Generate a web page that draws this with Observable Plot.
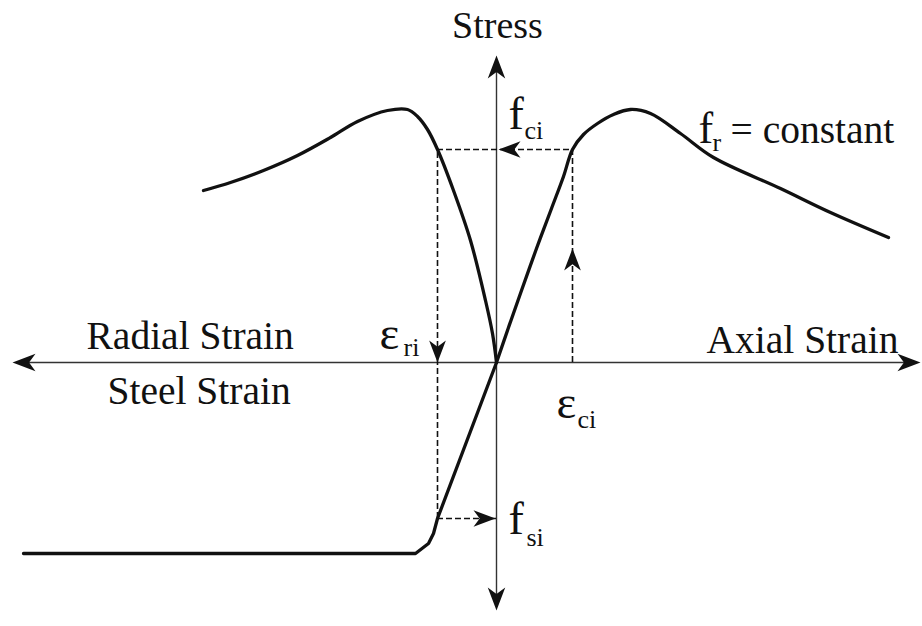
<!DOCTYPE html>
<html>
<head>
<meta charset="utf-8">
<script src="https://cdn.jsdelivr.net/npm/d3@7"></script>
<script src="https://cdn.jsdelivr.net/npm/@observablehq/plot@0.6"></script>
<style>
  html, body { margin: 0; padding: 0; background: #fff; }
  #chart svg { display: block; }
  #chart svg text { font-family: "Liberation Serif", "Times New Roman", serif; }
</style>
</head>
<body>
<div id="chart"></div>
<script>
// Confined concrete stress–strain schematic: axial strain to the right,
// radial (lateral) strain to the left, steel response below the strain axis.
// Units are schematic (strain and stress in arbitrary normalized units).

// Axial stress–strain curve of the confined concrete (fr = constant)
const axialStrain = [0, 0.12, 0.25, 0.40, 0.55, 0.67, 0.76, 0.87, 1.01, 1.17, 1.34, 1.54, 1.84, 2.17, 2.84, 3.34, 3.92];
const axialStress = [0, 0.35, 0.72, 1.14, 1.54, 1.86, 2.13, 2.28, 2.39, 2.48, 2.53, 2.49, 2.29, 2.05, 1.74, 1.50, 1.25];

// Stress vs. radial strain (plotted on the negative strain side)
const radialStrain = [0, -0.04, -0.11, -0.26, -0.43, -0.59, -0.69, -0.79, -0.89, -1.09, -1.39, -1.66, -1.99, -2.33, -2.66, -2.93];
const radialStress = [0, 0.29, 0.62, 1.22, 1.72, 2.13, 2.33, 2.46, 2.53, 2.52, 2.41, 2.25, 2.07, 1.92, 1.80, 1.72];

// Steel stress vs. steel strain (below the strain axis)
const steelStrain = [0, -0.59, -0.63, -0.68, -0.81, -4.73];
const steelStress = [0, -1.56, -1.71, -1.81, -1.91, -1.91];

const fci = 2.13;     // concrete stress
const epsCi = 0.76;   // axial strain
const epsRi = -0.59;  // radial strain
const fsi = -1.56;    // steel stress

// Axis extents
const strainAxis = [-4.84, 4.24];
const stressAxis = [-2.48, 3.07];

const toPoints = (xs, ys) => xs.map((x, i) => ({x, y: ys[i]}));
const axial = toPoints(axialStrain, axialStress);
const radial = toPoints(radialStrain, radialStress);
const steel = toPoints(steelStrain, steelStress);

// Barbed arrowhead, tip at the anchor point, pointing up before rotation
const arrowHead = {
  draw(context, size) {
    const l = Math.sqrt(size / Math.PI);
    const w = l * 0.38;
    context.moveTo(0, 0);
    context.lineTo(-w, l);
    context.lineTo(0, l * 0.72);
    context.lineTo(w, l);
    context.closePath();
  }
};

const axisHeads = [
  {x: 0, y: stressAxis[1], rotate: 0},
  {x: 0, y: stressAxis[0], rotate: 180},
  {x: strainAxis[0], y: 0, rotate: 270},
  {x: strainAxis[1], y: 0, rotate: 90}
];
const guideHeads = [
  {x: 0.02, y: fci, rotate: 270},
  {x: epsRi, y: 0, rotate: 180},
  {x: epsCi, y: 1.14, rotate: 0},
  {x: -0.01, y: fsi, rotate: 90}
];

const serif = "Liberation Serif";
const ink = "#111";

function label(text, x, y, dx, dy, fontSize, textAnchor = "start") {
  return Plot.text([{x, y, text}], {
    x: "x", y: "y", text: "text", dx, dy,
    fontSize, textAnchor, lineAnchor: "bottom",
    fontFamily: serif, fill: ink
  });
}

const guide = {stroke: ink, strokeWidth: 1.6, strokeDasharray: "6,3"};

const chart = Plot.plot({
  width: 922,
  height: 626,
  margin: 0,
  x: {domain: [-4.96, 4.26], axis: null},
  y: {domain: [-2.64, 3.62], axis: null},
  style: {background: "#fff", overflow: "visible", fontFamily: serif},
  marks: [
    // strain and stress axes
    Plot.ruleY([0], {x1: strainAxis[0] + 0.1, x2: strainAxis[1] - 0.1, stroke: "#333", strokeWidth: 1.4}),
    Plot.ruleX([0], {y1: stressAxis[0] + 0.1, y2: stressAxis[1] - 0.1, stroke: "#333", strokeWidth: 1.4}),

    // dashed construction lines linking the state i values
    Plot.ruleY([fci], {x1: epsRi, x2: epsCi, ...guide}),
    Plot.ruleX([epsRi], {y1: fsi, y2: fci, ...guide}),
    Plot.ruleX([epsCi], {y1: 0, y2: fci, ...guide}),
    Plot.ruleY([fsi], {x1: epsRi, x2: 0, ...guide}),

    // curves
    Plot.line(radial, {x: "x", y: "y", curve: "catmull-rom", stroke: ink, strokeWidth: 3.3}),
    Plot.line(axial, {x: "x", y: "y", curve: "catmull-rom", stroke: ink, strokeWidth: 3.3}),
    Plot.line(steel, {x: "x", y: "y", curve: "linear", stroke: ink, strokeWidth: 3.3, strokeLinejoin: "round"}),

    // arrowheads
    Plot.dot(axisHeads, {x: "x", y: "y", rotate: "rotate", symbol: arrowHead, r: 23, fill: ink, stroke: "none"}),
    Plot.dot(guideHeads, {x: "x", y: "y", rotate: "rotate", symbol: arrowHead, r: 22, fill: ink, stroke: "none"}),

    // axis titles
    label("Stress", 0, stressAxis[1], 1, -18, 38, "middle"),
    label("Radial Strain", strainAxis[0], 0, 74, -14, 39.5),
    label("Steel Strain", strainAxis[0], 0, 95, 41, 39.5),
    label("Axial Strain", strainAxis[1], 0, -22, -10, 39.5, "end"),

    // state i symbols
    label("f", 0, fci, 12, -21, 46),
    label("ci", 0, fci, 28, -11, 26),
    label("f", 0, fsi, 12, 15, 46),
    label("si", 0, fsi, 30, 27, 26),
    label("ε", epsRi, 0, -58, -14, 47),
    label("ri", epsRi, 0, -34, -7, 26),
    label("ε", epsCi, 0, -16, 55, 47),
    label("ci", epsCi, 0, 5, 65, 26),

    // confinement note next to the axial curve
    label("f", 1.34, 2.53, 68, 33, 44),
    label("r", 1.34, 2.53, 82, 41, 26),
    label("= constant", 1.34, 2.53, 100, 33, 39.5)
  ]
});

document.getElementById("chart").appendChild(chart);
</script>
</body>
</html>
